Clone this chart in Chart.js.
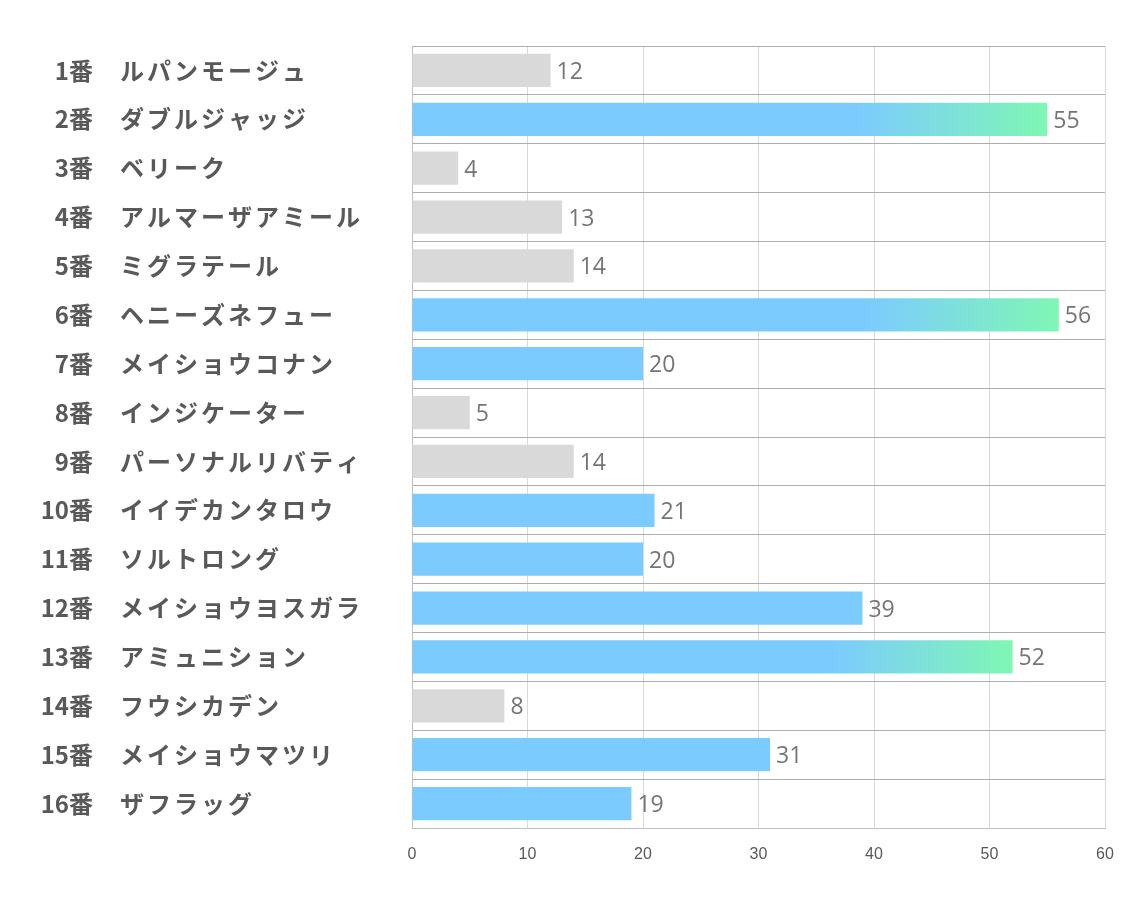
<!DOCTYPE html>
<html><head><meta charset="utf-8">
<script src="https://cdn.jsdelivr.net/npm/chart.js@4/dist/chart.umd.min.js"></script>
<style>html,body{margin:0;padding:0;background:#fff}#wrap{width:1134px;height:907px}</style>
</head><body><div id="wrap"><canvas id="c" width="1134" height="907"></canvas></div>
<script>
const numbers = ["1番","2番","3番","4番","5番","6番","7番","8番","9番","10番","11番","12番","13番","14番","15番","16番"];
const names = ["ルパンモージュ","ダブルジャッジ","ベリーク","アルマーザアミール","ミグラテール","ヘニーズネフュー","メイショウコナン","インジケーター","パーソナルリバティ","イイデカンタロウ","ソルトロング","メイショウヨスガラ","アミュニション","フウシカデン","メイショウマツリ","ザフラッグ"];
const values = [12,55,4,13,14,56,20,5,14,21,20,39,52,8,31,19];
const highlighted = [false,true,false,false,false,true,true,false,false,true,true,true,true,false,true,true];
const gradientBars = [false,true,false,false,false,true,false,false,false,false,false,false,true,false,false,false];
const xTicks = [0,10,20,30,40,50,60];

const BLUE = '#7ccbff', GREEN = '#7ff7b4', GRAY = '#d9d9d9';

const labelPlugin = {
  id: 'labels',
  afterDraw(chart) {
    const ctx = chart.ctx, y = chart.scales.y;
    ctx.save();
    ctx.textBaseline = 'middle';
    numbers.forEach((n, i) => {
      const py = y.getPixelForValue(i);
      ctx.fillStyle = '#595959';
      ctx.font = 'bold 24px "Noto Sans CJK JP"';
      ctx.letterSpacing = '0px';
      ctx.textAlign = 'right';
      ctx.fillText(n, 93, py);
      ctx.textAlign = 'left';
      ctx.letterSpacing = '3px';
      ctx.fillText(names[i], 120, py);
    });
    ctx.letterSpacing = '0px';
    ctx.font = '23px "Open Sans"';
    ctx.fillStyle = '#757575';
    ctx.textAlign = 'left';
    const meta = chart.getDatasetMeta(0);
    meta.data.forEach((bar, i) => {
      ctx.fillText(String(values[i]), bar.x + 6, bar.y + 2);
    });
    ctx.restore();
  }
};

new Chart(document.getElementById('c'), {
  type: 'bar',
  data: {
    labels: names,
    datasets: [{
      data: values,
      backgroundColor(context) {
        const i = context.dataIndex;
        if (!highlighted[i]) return GRAY;
        if (!gradientBars[i]) return BLUE;
        const chart = context.chart;
        if (!chart.chartArea || !chart.scales.x) return BLUE;
        const x0 = chart.scales.x.getPixelForValue(0);
        const x1 = chart.scales.x.getPixelForValue(values[i]);
        const g = chart.ctx.createLinearGradient(x0 + (x1 - x0) * 0.7, 0, x1, 0);
        g.addColorStop(0, BLUE);
        g.addColorStop(1, GREEN);
        return g;
      },
      borderWidth: 0,
      categoryPercentage: 1,
      barPercentage: 0.68
    }]
  },
  options: {
    indexAxis: 'y',
    responsive: false,
    animation: false,
    layout: { padding: { top: 46, right: 29, left: 0, bottom: 0 } },
    plugins: { legend: { display: false }, tooltip: { enabled: false } },
    scales: {
      x: {
        min: 0, max: 60,
        afterBuildTicks(scale) { scale.ticks = xTicks.map(v => ({ value: v })); },
        afterFit(scale) { scale.height = 79; },
        grid: { color: '#d9d9d9', drawTicks: false, lineWidth: 1 },
        border: { display: true, color: '#bfbfbf' },
        ticks: { color: '#595959', font: { family: 'Liberation Sans Narrow, Liberation Sans', size: 16 }, padding: 17 }
      },
      y: {
        afterFit(scale) { scale.width = 412; },
        grid: { color: '#adadad', drawTicks: false, offset: true },
        border: { display: true, color: '#bfbfbf' },
        ticks: { display: false }
      }
    }
  },
  plugins: [labelPlugin]
});
</script></body></html>
